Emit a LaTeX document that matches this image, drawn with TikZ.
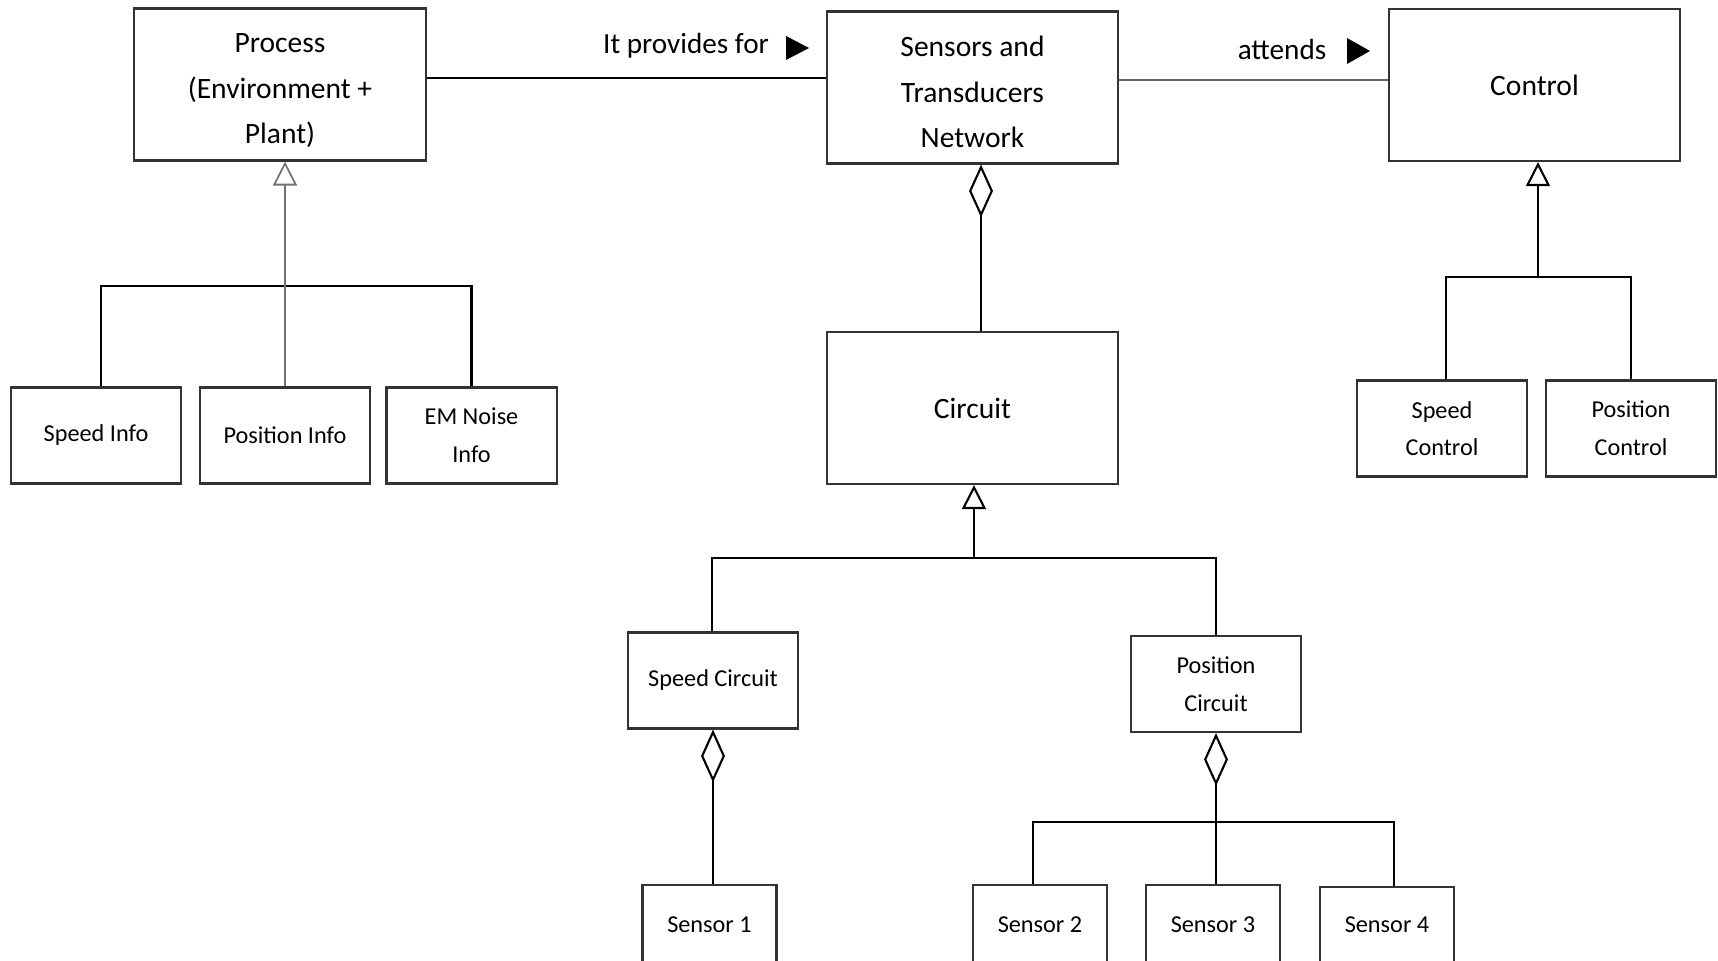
\documentclass[tikz,border=0pt]{standalone}
\usepackage{fontspec}
\setmainfont{Carlito}
\usetikzlibrary{arrows.meta}
\tikzset{bigbox/.style={rectangle,draw=black!80,line width=0.6pt,minimum width=2.91cm,minimum height=1.52cm,align=center,font=\fontsize{8.4}{13}\selectfont},
    smallbox/.style={rectangle,draw=black!80,line width=0.6pt,minimum width=1.70cm,minimum height=0.96cm,align=center,inner sep=1pt,font=\fontsize{6.9}{10.7}\selectfont},
    sensbox/.style={smallbox,minimum width=1.34cm},
    lbl/.style={font=\fontsize{8.3}{10}\selectfont},
    link/.style={line width=0.6pt},
    inherit/.style={link,-{Triangle[open,length=6.8pt,width=6.8pt,fill=white]}},
    aggr/.style={link,-{Diamond[open,length=15pt,width=6.8pt,fill=white]}}}

\begin{document}
\begin{tikzpicture}[x=0.01cm,y=-0.01cm]
        \useasboundingbox (0,0) rectangle (1718,961);
        \clip (0,0) rectangle (1718,961);

        % top row
        \node[bigbox,text height=35pt] (proc) at (280,84.5) {Process\\(Environment +\\Plant)};
        \node[bigbox,text height=34.4pt] (sens) at (972.5,87.5) {Sensors and\\Transducers\\Network};
        \node[bigbox] (ctrl) at (1534.5,85) {Control};
        \node[bigbox] (circ) at (972.5,408) {Circuit};

        % process parts
        \node[smallbox] (sinfo) at (96,435.5) {Speed Info};
        \node[smallbox] (pinfo) at (285,435.5) {Position Info};
        \node[smallbox] (ninfo) at (471.5,435.5) {EM Noise\\Info};

        % control parts
        \node[smallbox] (sctrl) at (1442,428.5) {Speed\\Control};
        \node[smallbox] (pctrl) at (1631,428.5) {Position\\Control};

        % circuit parts
        \node[smallbox] (spc) at (713,680.5) {Speed Circuit};
        \node[smallbox] (posc) at (1216,684) {Position\\Circuit};
        \node[sensbox,minimum height=0.8cm] (s1) at (709.5,925) {Sensor 1};
        \node[sensbox,minimum height=0.8cm] (s2) at (1040,925) {Sensor 2};
        \node[sensbox,minimum height=0.8cm] (s3) at (1213,925) {Sensor 3};
        \node[sensbox,minimum height=0.76cm] (s4) at (1387,925) {Sensor 4};

        % associations
        \node[lbl] (prov) at (686,46) {It provides for};
        \node[lbl] (att) at (1282,49) {attends};
        \fill (786,36) -- (809,48) -- (786,60) -- cycle;
        \fill (1347,38) -- (1370,51) -- (1347,64) -- cycle;
        \draw [link] ([yshift=0.065cm]proc.east) to [] ([yshift=0.065cm]proc.east -| sens.west);
        \draw [link,black!60,line width=0.5pt] ([yshift=0.075cm]sens.east) to [] ([yshift=0.075cm]sens.east -| ctrl.west);

        % generalisations
        \coordinate (pbus) at (285,286);
        \coordinate (cbus) at (1538,277);
        \coordinate (kbus) at (974,558);
        \draw [link] (sinfo.north -| 101,0) |- (pbus) -| (ninfo.north);
        \draw [inherit,black!55,line width=0.5pt] (pinfo.north) to [] (pinfo.north |- proc.south);
        \draw [link] (sctrl.north -| 1446,0) |- (cbus) -| (pctrl.north);
        \draw [inherit] (cbus) to [] (cbus |- ctrl.south);
        \draw [link] (spc.north -| 712,0) |- (kbus) -| (posc.north);
        \draw [inherit] (kbus) to [] (kbus |- circ.south);

        % aggregations
        \draw [aggr] ([xshift=0.085cm]circ.north) to [] ([xshift=0.085cm]sens.south);
        \draw [aggr] (s1.north -| spc.south) to [] (spc.south);
        \coordinate (sbus) at (1216,822);
        \draw [link] (s2.north -| 1033,0) |- (sbus) -| (s4.north -| 1394,0);
        \draw [aggr] (s3.north -| posc.south) to [] (posc.south);
    \end{tikzpicture}
\end{document}
